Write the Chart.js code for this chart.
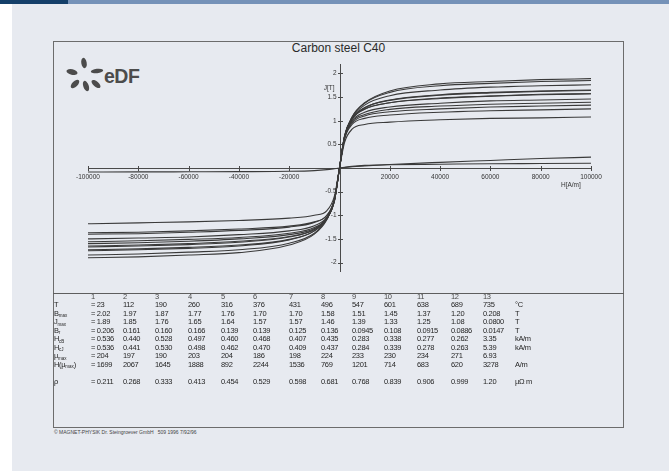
<!DOCTYPE html>
<html>
<head>
<meta charset="utf-8">
<script src="https://cdn.jsdelivr.net/npm/chart.js@4.4.1/dist/chart.umd.min.js"></script>
<style>
  html, body { margin: 0; padding: 0; background: #ffffff; }
  body { width: 669px; height: 471px; position: relative; overflow: hidden;
         font-family: "Liberation Sans", Arial, sans-serif; }
  #barDark  { position: absolute; left: 0; top: 0; width: 68px; height: 4px; background: #143f69; }
  #barLight { position: absolute; left: 68px; top: 0; right: 0; height: 4px; background: #7592b8; }
  #panel { position: absolute; left: 12px; top: 4px; right: 0; bottom: 0; background: #e7eaf0; }
  #frame { position: absolute; left: 53px; top: 41px; width: 571px; height: 387px;
           border: 1px solid #6c6c6c; box-sizing: border-box; }
  #rule  { position: absolute; left: 53px; top: 293px; width: 571px; height: 1px; background: #5e5e5e; }
  #plot  { position: absolute; left: 53px; top: 41px; width: 571px; height: 252px; }
  #title { position: absolute; left: 53px; top: 41px; width: 571px; text-align: center;
           font-size: 12px; line-height: 14px; color: #2a2a2a; }
  #logo  { position: absolute; left: 60px; top: 52px; }
  .cell  { position: absolute; font-size: 7.5px; line-height: 8px; color: #262626; white-space: nowrap;
           letter-spacing: -0.35px; }
  .cell sub { font-size: 4.5px; line-height: 0; vertical-align: baseline; position: relative; top: 1.5px;
              letter-spacing: 0; }
  .head  { color: #4a4a4a; }
  #footer { position: absolute; left: 54px; top: 429px; font-size: 5px; line-height: 6px; color: #444; white-space: nowrap; }
</style>
</head>
<body>
<div id="barDark"></div>
<div id="barLight"></div>
<div id="panel"></div>
<div id="frame"></div>
<div id="rule"></div>
<div id="title">Carbon steel C40</div>
<svg id="logo" width="100" height="44" viewBox="0 0 100 44">
  <g fill="#4c4c4c">
    <ellipse cx="24" cy="11" rx="5.2" ry="2.7" transform="rotate(80 24 11)"/>
    <ellipse cx="12" cy="20" rx="5.6" ry="2.8" transform="rotate(12 12 20)"/>
    <ellipse cx="37" cy="19" rx="6.2" ry="2.2" transform="rotate(-6 37 19)"/>
    <ellipse cx="15" cy="32" rx="5.4" ry="2.7" transform="rotate(-45 15 32)"/>
    <ellipse cx="26" cy="34" rx="5.4" ry="2.7" transform="rotate(70 26 34)"/>
    <ellipse cx="36" cy="32" rx="5.4" ry="2.7" transform="rotate(40 36 32)"/>
  </g>
  <text x="44" y="31" font-family="Liberation Sans, Arial, sans-serif" font-weight="bold"
        font-size="19.5" fill="#4c4c4c" letter-spacing="-0.5">eDF</text>
</svg>
<canvas id="plot" width="571" height="252"></canvas>
<div id="footer">© MAGNET-PHYSIK Dr. Steingroever GmbH &nbsp; 509 1996 7/92/96</div>

<script>
// Field strength H in A/m at which each J(H) curve is sampled
const fieldH = [-100000, -80000, -60000, -40000, -20000, -10000, -5000, -2000, 0,
                2000, 5000, 10000, 20000, 40000, 60000, 80000, 100000];

// Polarisation J in T, one curve per measuring temperature
const J_23C  = [-1.90, -1.88, -1.84, -1.79, -1.63, -1.40, -1.09, -0.67, 0, 0.66, 1.08, 1.38, 1.63, 1.78, 1.83, 1.87, 1.89];
const J_112C = [-1.84, -1.82, -1.78, -1.73, -1.59, -1.38, -1.08, -0.67, 0, 0.67, 1.08, 1.37, 1.60, 1.74, 1.79, 1.83, 1.85];
const J_190C = [-1.75, -1.73, -1.70, -1.65, -1.52, -1.33, -1.06, -0.66, 0, 0.66, 1.06, 1.33, 1.53, 1.65, 1.71, 1.74, 1.76];
const J_260C = [-1.73, -1.71, -1.68, -1.63, -1.51, -1.33, -1.07, -0.67, 0, 0.64, 1.03, 1.27, 1.44, 1.55, 1.60, 1.63, 1.65];
const J_316C = [-1.67, -1.65, -1.62, -1.57, -1.46, -1.30, -1.06, -0.67, 0, 0.66, 1.05, 1.28, 1.43, 1.54, 1.59, 1.62, 1.64];
const J_376C = [-1.65, -1.63, -1.60, -1.55, -1.45, -1.30, -1.07, -0.69, 0, 0.66, 1.03, 1.24, 1.38, 1.48, 1.52, 1.55, 1.57];
const J_431C = [-1.60, -1.58, -1.55, -1.50, -1.41, -1.28, -1.06, -0.69, 0, 0.68, 1.05, 1.25, 1.38, 1.47, 1.52, 1.56, 1.57];
const J_496C = [-1.56, -1.54, -1.51, -1.47, -1.38, -1.26, -1.06, -0.69, 0, 0.65, 1.00, 1.18, 1.29, 1.37, 1.42, 1.44, 1.46];
const J_547C = [-1.50, -1.48, -1.46, -1.41, -1.33, -1.22, -1.04, -0.69, 0, 0.64, 0.98, 1.13, 1.24, 1.31, 1.35, 1.37, 1.39];
const J_601C = [-1.40, -1.39, -1.36, -1.32, -1.25, -1.15, -1.00, -0.66, 0, 0.63, 0.95, 1.10, 1.19, 1.25, 1.29, 1.31, 1.33];
const J_638C = [-1.37, -1.36, -1.33, -1.29, -1.23, -1.14, -1.00, -0.67, 0, 0.61, 0.92, 1.05, 1.12, 1.18, 1.21, 1.23, 1.25];
const J_689C = [-1.18, -1.16, -1.14, -1.11, -1.06, -1.00, -0.90, -0.59, 0, 0.54, 0.82, 0.92, 0.97, 1.02, 1.05, 1.06, 1.08];
const J_735C = [-0.085, -0.083, -0.080, -0.077, -0.070, -0.055, -0.035, -0.015, 0, 0.015, 0.035, 0.055, 0.070, 0.080, 0.090, 0.095, 0.100];

// Induction B in T at 735 °C, rising branch only
const fieldHPositive = [0, 2000, 5000, 10000, 20000, 40000, 60000, 80000, 100000];
const B_735C = [0, 0.010, 0.025, 0.045, 0.075, 0.120, 0.160, 0.200, 0.230];

// Axis ticks
const xTickValues = [-100000, -80000, -60000, -40000, -20000, 0, 20000, 40000, 60000, 80000, 100000];
const xTickLabels = ['-100000', '-80000', '-60000', '-40000', '-20000', '', '20000', '40000', '60000', '80000', '100000'];
const yTickValues = [2, 1.5, 1, 0.5, 0, -0.5, -1, -1.5, -2];
const yTickLabels = ['2', '1.5', '1', '0.5', '', '-0.5', '-1', '-1.5', '-2'];

// Measurement table (columns 1 to 13)
const columnNumbers = ['1', '2', '3', '4', '5', '6', '7', '8', '9', '10', '11', '12', '13'];
const tempC  = ['23', '112', '190', '260', '316', '376', '431', '496', '547', '601', '638', '689', '735'];
const bMax   = ['2.02', '1.97', '1.87', '1.77', '1.76', '1.70', '1.70', '1.58', '1.51', '1.45', '1.37', '1.20', '0.208'];
const jMax   = ['1.89', '1.85', '1.76', '1.65', '1.64', '1.57', '1.57', '1.46', '1.39', '1.33', '1.25', '1.08', '0.0800'];
const bR     = ['0.206', '0.161', '0.160', '0.166', '0.139', '0.139', '0.125', '0.136', '0.0945', '0.108', '0.0915', '0.0886', '0.0147'];
const hcB    = ['0.536', '0.440', '0.528', '0.497', '0.460', '0.468', '0.407', '0.435', '0.283', '0.338', '0.277', '0.262', '3.35'];
const hcJ    = ['0.536', '0.441', '0.530', '0.498', '0.462', '0.470', '0.409', '0.437', '0.284', '0.339', '0.278', '0.263', '5.39'];
const muMax  = ['204', '197', '190', '203', '204', '186', '198', '224', '233', '230', '234', '271', '6.93'];
const hMuMax = ['1699', '2067', '1645', '1888', '892', '2244', '1536', '769', '1201', '714', '683', '620', '3278'];
const rho    = ['0.211', '0.268', '0.333', '0.413', '0.454', '0.529', '0.598', '0.681', '0.768', '0.839', '0.906', '0.999', '1.20'];

const rowLabels = ['T', 'B<sub>max</sub>', 'J<sub>max</sub>', 'B<sub>r</sub>', 'H<sub>cB</sub>', 'H<sub>cJ</sub>',
                   'μ<sub>max</sub>', 'H(μ<sub>max</sub>)', 'ρ'];
const rowUnits  = ['°C', 'T', 'T', 'T', 'kA/m', 'kA/m', '', 'A/m', 'µΩ m'];
const rowValues = [tempC, bMax, jMax, bR, hcB, hcJ, muMax, hMuMax, rho];

// ---- table layout ----
const colX = [91, 123, 155, 188, 221, 253, 289, 321, 352, 384, 417, 451, 483];
const unitX = 515;
const labelX = 54;
const headerY = 297;
const rowY = [305, 313.5, 322, 330.5, 339, 347.5, 356, 364.5, 382];

function addCell(html, x, y, cls) {
  const d = document.createElement('div');
  d.className = 'cell' + (cls ? ' ' + cls : '');
  d.innerHTML = html;
  d.style.left = x + 'px';
  d.style.top = (y - 4) + 'px';
  document.body.appendChild(d);
}
columnNumbers.forEach((n, i) => addCell(n, colX[i], headerY, 'head'));
rowValues.forEach((vals, r) => {
  addCell(rowLabels[r], labelX, rowY[r]);
  vals.forEach((v, i) => addCell(i === 0 ? '= ' + v : v, colX[i], rowY[r]));
  if (rowUnits[r]) addCell(rowUnits[r], unitX, rowY[r]);
});

// ---- plot ----
const curveSets = [J_23C, J_112C, J_190C, J_260C, J_316C, J_376C, J_431C,
                   J_496C, J_547C, J_601C, J_638C, J_689C, J_735C];
const curveColor = '#3a3a3a';

const datasets = curveSets.map(vals => ({
  data: fieldH.map((h, i) => ({ x: h, y: vals[i] })),
  showLine: true,
  borderColor: curveColor,
  borderWidth: 1.1,
  pointRadius: 0,
  cubicInterpolationMode: 'monotone',
  clip: false
}));
datasets.push({
  data: fieldHPositive.map((h, i) => ({ x: h, y: B_735C[i] })),
  showLine: true,
  borderColor: curveColor,
  borderWidth: 1.1,
  pointRadius: 0,
  cubicInterpolationMode: 'monotone',
  clip: false
});

// Axes crossing at the origin, with "+" tick marks and small labels
const crossAxes = {
  id: 'crossAxes',
  beforeDatasetsDraw(chart) {
    const { ctx } = chart;
    const xs = chart.scales.x, ys = chart.scales.y;
    const x0 = Math.round(xs.getPixelForValue(0)) + 0.5;
    const y0 = Math.round(ys.getPixelForValue(0)) + 0.5;
    ctx.save();
    ctx.strokeStyle = '#4a4a4a';
    ctx.lineWidth = 1;
    ctx.beginPath();
    ctx.moveTo(Math.round(xs.getPixelForValue(xTickValues[0])), y0);
    ctx.lineTo(Math.round(xs.getPixelForValue(xTickValues[xTickValues.length - 1])) + 1, y0);
    ctx.moveTo(x0, ys.top);
    ctx.lineTo(x0, ys.bottom);
    xTickValues.forEach(v => {
      if (v === 0) return;
      const p = Math.round(xs.getPixelForValue(v)) + 0.5;
      ctx.moveTo(p, y0 - 2.5); ctx.lineTo(p, y0 + 2.5);
    });
    yTickValues.forEach(v => {
      if (v === 0) return;
      const p = Math.round(ys.getPixelForValue(v)) + 0.5;
      ctx.moveTo(x0 - 2.5, p); ctx.lineTo(x0 + 2.5, p);
    });
    ctx.stroke();

    ctx.fillStyle = '#333';
    ctx.font = '6.5px "Liberation Sans", Arial, sans-serif';
    ctx.textBaseline = 'middle';
    ctx.textAlign = 'center';
    xTickValues.forEach((v, i) => {
      if (xTickLabels[i]) ctx.fillText(xTickLabels[i], xs.getPixelForValue(v), y0 + 9);
    });
    ctx.textAlign = 'right';
    yTickValues.forEach((v, i) => {
      if (yTickLabels[i]) ctx.fillText(yTickLabels[i], x0 - 4, ys.getPixelForValue(v));
    });
    ctx.fillText('J[T]', x0 - 6, ys.getPixelForValue(1.69));
    ctx.textAlign = 'center';
    ctx.fillText('H[A/m]', xs.getPixelForValue(92000), ys.getPixelForValue(-0.36));
    ctx.restore();
  }
};

new Chart(document.getElementById('plot'), {
  type: 'scatter',
  data: { datasets },
  options: {
    responsive: false,
    animation: false,
    devicePixelRatio: 1,
    layout: { padding: { left: 35, right: 33, top: 23, bottom: 21 } },
    scales: {
      x: { type: 'linear', min: -100000, max: 100000, display: false },
      y: { type: 'linear', min: -2.2, max: 2.2, display: false }
    },
    plugins: { legend: { display: false }, tooltip: { enabled: false } }
  },
  plugins: [crossAxes]
});
</script>
</body>
</html>
